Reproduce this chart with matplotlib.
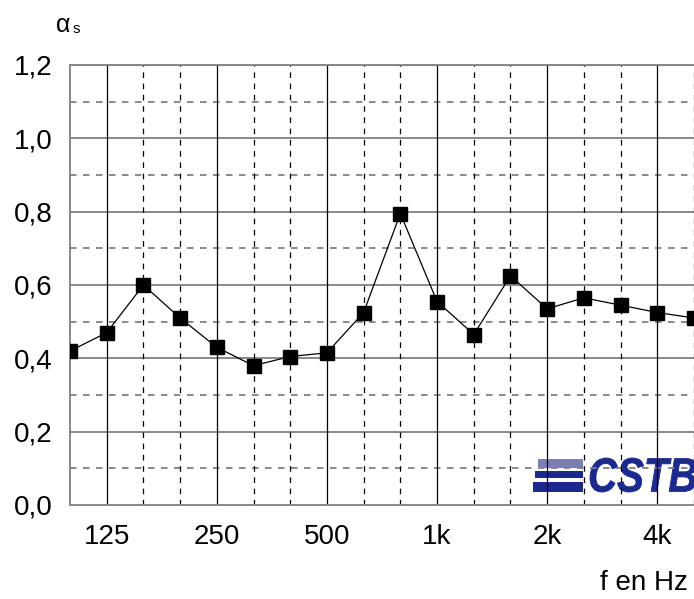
import matplotlib
matplotlib.use("Agg")
import matplotlib.pyplot as plt
from matplotlib.patches import Rectangle, PathPatch
from matplotlib.textpath import TextPath
from matplotlib.font_manager import FontProperties
from matplotlib.transforms import Affine2D

# third-octave bands 100 Hz .. 5 kHz
bands = ["100", "125", "160", "200", "250", "315", "400", "500", "630",
         "800", "1k", "1.25k", "1.6k", "2k", "2.5k", "3.15k", "4k", "5k"]
alpha_s = [0.42, 0.47, 0.60, 0.51, 0.43, 0.38, 0.405, 0.415, 0.525,
           0.795, 0.555, 0.465, 0.625, 0.535, 0.565, 0.545, 0.525, 0.51]
shown_labels = ["125", "250", "500", "1k", "2k", "4k"]
y_labels = ["0,0", "0,2", "0,4", "0,6", "0,8", "1,0", "1,2"]

plt.rcParams["font.family"] = ["Liberation Sans", "DejaVu Sans"]

W, H = 694, 599
fig = plt.figure(figsize=(W / 100, H / 100), dpi=100)
ax = fig.add_axes([70 / W, 1 - 505 / H, 1 - 70 / W, (505 - 65) / H])
ax.patch.set_visible(False)

x = list(range(len(bands)))
ax.set_xlim(0, len(bands) - 1)
ax.set_ylim(0, 1.2)

grey = "#808080"
# horizontal grid
for k in range(1, 13):
    v = k * 0.1
    if k % 2 == 0:
        ax.axhline(v, color=grey, lw=1.3, zorder=2)
    else:
        ax.axhline(v, color=grey, lw=1.3, ls=(0, (3.6, 3.6)), zorder=2)
# vertical grid
major_idx = [bands.index(l) for l in shown_labels]
for i in x[1:]:
    if i in major_idx:
        ax.axvline(i, color="black", lw=0.9, zorder=2)
    else:
        ax.axvline(i, color="black", lw=0.9, ls=(0, (4.5, 4.5)), zorder=2)

for s in ["left", "bottom", "top"]:
    ax.spines[s].set_color(grey)
    ax.spines[s].set_linewidth(1.3)
ax.spines["right"].set_visible(False)

ax.plot(x, alpha_s, color="black", lw=0.9, marker="s", ms=10,
        markerfacecolor="black", zorder=5)

ax.set_xticks(major_idx)
ax.set_xticklabels(shown_labels, fontsize=20)
ax.set_yticks([i * 0.2 for i in range(7)])
ax.set_yticklabels(y_labels, fontsize=20)
ax.tick_params(axis="x", length=0, pad=14)
ax.tick_params(axis="y", length=0, pad=12.5)

fig.text(63 / W, 1 - 25 / H, "α", fontsize=18, ha="center", va="center")
fig.text(76 / W, 1 - 29 / H, "s", fontsize=11, ha="center", va="center")
fig.text(688 / W, 1 - 583 / H, "f en Hz", fontsize=20, ha="right", va="center")

# CSTB logo (pixel coords, top origin), drawn beneath the grid
px = Affine2D().scale(1 / W, 1 / H) + fig.transFigure
blue = "#1c2a8e"
bars = [(538, 459, 45, 9, "#7b80b3"), (535, 471, 48, 7, blue), (533, 482, 50, 10, blue)]
for bx, by, bw, bh, c in bars:
    fig.patches.append(Rectangle((bx, H - by - bh), bw, bh, color=c, lw=0,
                                 transform=px, zorder=-1))
fp = FontProperties(family="Liberation Sans", weight="bold", style="italic")
tp = TextPath((0, 0), "CSTB", size=1, prop=fp)
ext = tp.get_extents()
tw, th = 106, 34
t = (Affine2D().translate(-ext.x0, -ext.y0)
     .scale(tw / ext.width, th / ext.height)
     .translate(590, H - 492))
fig.patches.append(PathPatch(tp, transform=t + px, color=blue, lw=0.6, zorder=-1))

fig.savefig("out.png", dpi=100)
